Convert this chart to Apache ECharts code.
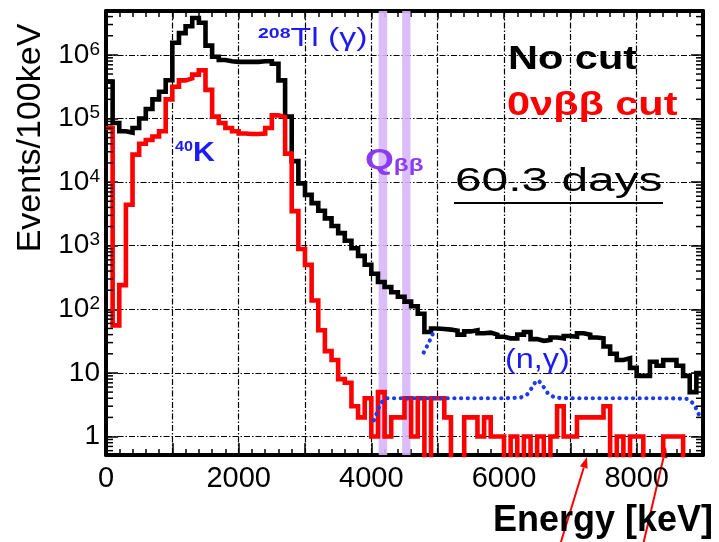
<!DOCTYPE html>
<html>
<head>
<meta charset="utf-8">
<title>Energy spectrum, 60.3 days</title>
<script src="https://cdn.jsdelivr.net/npm/echarts@6/dist/echarts.min.js"></script>
<style>
  html, body { margin: 0; padding: 0; background: #fff; }
  #main { width: 719px; height: 542px; }
</style>
</head>
<body>
<div id="main"></div>
<script>
// histograms, 100 keV bins starting at 0 keV
var binWidth = 100;

// black: no cut
var noCut = [
  380000, 85000, 63000, 60000, 71000, 100000, 141000, 200000, 263000, 400000,
  1550000, 2200000, 2820000, 3800000, 3200000, 1400000, 933000, 832000, 794000, 776000,
  776000, 776000, 776000, 794000, 794000, 724000, 398000, 107000, 21400, 9550,
  6310, 4680, 3550, 2690, 2040, 1580, 1200, 912, 692, 501,
  363, 269, 224, 186, 158, 132, 112, 85, 44, 50,
  49, 48, 46, 40, 45, 47, 42, 43, 40, 37,
  35, 35, 40, 44, 34, 32, 33, 36, 35, 38,
  37, 42, 40, 36, 35, 26, 20, 16, 17, 12,
  9, 9, 15, 13, 16, 16, 13, 9, 5, 10
];

// red: 0vbb cut
var cut0vbb = [
  71000, 56, 240, 4400, 27000, 40000, 46000, 52000, 63000, 200000,
  316000, 398000, 427000, 490000, 575000, 282000, 107000, 85000, 71000, 63000,
  58000, 57000, 57000, 58000, 71000, 112000, 105000, 28000, 3500, 890,
  500, 138, 47, 22, 16, 8, 7, 3, 2, 4,
  1, 5, 1, 2, 2, 4, 1, 4, 0, 4,
  4, 2, 0, 0, 2, 2, 1, 2, 1, 1,
  0, 1, 0, 1, 0, 1, 0, 1, 3, 1,
  1, 2, 2, 2, 2, 3, 0, 1, 0, 1,
  1, 0, 0, 0, 1, 1, 1, 0, 0, 0
];

// blue dotted (n,gamma) expectation
var ngE = [4040, 4080, 4120, 4170, 4230, 4400, 4800, 5200, 5600, 6000, 6250, 6350, 6420, 6480, 6520, 6580, 6660, 6760, 7000, 7500, 8000, 8500, 8760, 8830, 8880, 8930, 8970];
var ngCounts = [1.8, 2.3, 3.0, 3.6, 4.0, 4.0, 4.0, 4.0, 4.0, 4.0, 4.1, 4.6, 5.8, 7.4, 7.6, 6.4, 4.8, 4.1, 4.0, 4.0, 4.0, 4.0, 3.9, 3.5, 3.0, 2.3, 1.9];

// short dotted piece near the 208Tl edge
var tlEdgeE = [4790, 4860, 4940];
var tlEdgeCounts = [21, 29, 44];

// Q_bb windows (keV)
var qbbBands = [[4110, 4240], [4465, 4590]];

var xMax = 9000;
var yMin = -0.29;   // log10 of 0.51
var yMax = 6.69;    // log10 of 4.9e6

var font = 'Liberation Sans, Arial, sans-serif';

function lg(v) { return v > 0 ? Math.log10(v) : -1; }

function histPoints(arr) {
  var pts = arr.map(function (v, i) { return [i * binWidth, lg(v)]; });
  pts.push([arr.length * binWidth, lg(arr[arr.length - 1])]);
  return pts;
}

function pairs(xs, ys) {
  return xs.map(function (x, i) { return [x, lg(ys[i])]; });
}

// log minor tick positions (2..9 in each decade)
var minorLog = [];
for (var n = -1; n <= 6; n++) {
  for (var k = 2; k <= 9; k++) {
    var v = Math.log10(k) + n;
    if (v > yMin && v < yMax) minorLog.push([0, v]);
  }
}

var chart = echarts.init(document.getElementById('main'));

var gridLine = { show: true, lineStyle: { color: '#000', width: 1.2, type: [6, 2, 1.5, 2] } };

function arrow(x1, y1, x2, y2) {
  var a = Math.atan2(y2 - y1, x2 - x1);
  var L = 11, W = 4;
  var bx = x2 - L * Math.cos(a), by = y2 - L * Math.sin(a);
  return [
    { type: 'line', shape: { x1: x1, y1: y1, x2: bx, y2: by }, style: { stroke: '#ff0000', lineWidth: 2 } },
    { type: 'polygon', shape: { points: [[x2, y2],
        [bx + W * Math.sin(a), by - W * Math.cos(a)],
        [bx - W * Math.sin(a), by + W * Math.cos(a)]] }, style: { fill: '#ff0000' } }
  ];
}

function label(x, y, text, rich, sx, extra) {
  var el = {
    type: 'text', x: x, y: y, scaleX: sx || 1, z: 20,
    style: {
      text: text, rich: rich, fontFamily: font,
      align: 'left', verticalAlign: 'middle',
      textAlign: 'left', textVerticalAlign: 'middle'
    }
  };
  if (extra) for (var key in extra) el.style[key] = extra[key];
  return el;
}

var blue = '#1c1cf0';

var option = {
  animation: false,
  backgroundColor: '#fff',
  grid: { left: 106, right: 16, top: 11, bottom: 87 },
  xAxis: [{
    type: 'value', min: 0, max: xMax, interval: 1000,
    axisLine: { onZero: false, lineStyle: { color: '#000', width: 4 } },
    axisTick: { inside: true, length: 12, lineStyle: { color: '#000', width: 1.5 } },
    minorTick: { show: true, splitNumber: 5, length: 6, lineStyle: { color: '#000', width: 1.5 } },
    axisLabel: {
      color: '#000', fontFamily: font, fontSize: 29, margin: 9,
      formatter: function (v) { return (v % 2000 === 0 && v < xMax) ? String(v) : ''; }
    },
    splitLine: gridLine
  }, {
    type: 'value', position: 'top', min: 0, max: xMax, interval: 1000,
    axisLine: { onZero: false, lineStyle: { color: '#000', width: 4 } },
    axisTick: { inside: true, length: 8, lineStyle: { color: '#000', width: 1.5 } },
    minorTick: { show: true, splitNumber: 5, length: 6, lineStyle: { color: '#000', width: 1.5 } },
    axisLabel: { show: false },
    splitLine: { show: false }
  }],
  yAxis: [{
    type: 'value', min: yMin, max: yMax, splitNumber: 7,
    axisLine: { onZero: false, lineStyle: { color: '#000', width: 4 } },
    axisTick: { inside: true, length: 12, lineStyle: { color: '#000', width: 1.5 } },
    axisLabel: {
      color: '#000', fontFamily: font, margin: 6,
      showMinLabel: false, showMaxLabel: false,
      formatter: function (v) {
        if (Math.abs(v - Math.round(v)) > 1e-6) return '';
        var p = Math.round(v);
        if (p === 0) return '{b|1}';
        if (p === 1) return '{b|10}';
        return '{b|10}{s|' + p + '}';
      },
      rich: {
        b: { fontSize: 28, lineHeight: 30, fontFamily: font, color: '#000' },
        s: { fontSize: 19, lineHeight: 18, verticalAlign: 'top', fontFamily: font, color: '#000' }
      }
    },
    splitLine: gridLine
  }, {
    type: 'value', position: 'right', min: yMin, max: yMax, splitNumber: 7,
    axisLine: { onZero: false, lineStyle: { color: '#000', width: 4 } },
    axisTick: { inside: true, length: 12, lineStyle: { color: '#000', width: 1.5 } },
    axisLabel: { show: false },
    splitLine: { show: false }
  }],
  series: [{
    // Q_bb windows
    type: 'line', data: [], z: 1, silent: true,
    markArea: {
      silent: true,
      itemStyle: { color: '#d7b6f8', opacity: 0.9 },
      data: qbbBands.map(function (b) { return [{ xAxis: b[0] }, { xAxis: b[1] }]; })
    }
  }, {
    name: 'No cut', type: 'line', step: 'end', z: 3, clip: true,
    symbol: 'none', data: histPoints(noCut),
    lineStyle: { color: '#000', width: 4.6, join: 'miter' }
  }, {
    name: '0vbb cut', type: 'line', step: 'end', z: 4, clip: true,
    symbol: 'none', data: histPoints(cut0vbb),
    lineStyle: { color: '#ff0000', width: 4.6, join: 'miter' }
  }, {
    name: '(n,g)', type: 'line', z: 5, clip: true, symbol: 'none',
    data: pairs(ngE, ngCounts),
    lineStyle: { color: '#1a3cf0', width: 4.2, type: [0.1, 6.6], cap: 'round' }
  }, {
    type: 'line', z: 5, clip: true, symbol: 'none',
    data: pairs(tlEdgeE, tlEdgeCounts),
    lineStyle: { color: '#1a3cf0', width: 4.2, type: [0.1, 6.6], cap: 'round' }
  }, {
    // log minor ticks on left and right frame
    type: 'custom', z: 6, silent: true, data: minorLog,
    renderItem: function (params, api) {
      var y = api.value(1);
      var l = api.coord([0, y]);
      var r = api.coord([xMax, y]);
      var st = { stroke: '#000', lineWidth: 1.5 };
      return {
        type: 'group', children: [
          { type: 'line', shape: { x1: l[0], y1: l[1], x2: l[0] + 7, y2: l[1] }, style: st },
          { type: 'line', shape: { x1: r[0], y1: r[1], x2: r[0] - 7, y2: r[1] }, style: st }
        ]
      };
    }
  }],
  graphic: [
    { type: 'text', x: 31, y: 138, rotation: Math.PI / 2, z: 20,
      style: { text: 'Events/100keV', fontFamily: font, fontSize: 34, fill: '#000',
        align: 'center', verticalAlign: 'middle', textAlign: 'center', textVerticalAlign: 'middle' } },
    { type: 'text', x: 713, y: 521, z: 20,
      style: { text: 'Energy [keV]', fontFamily: font, fontSize: 36, fontWeight: 'bold', fill: '#000',
        align: 'right', verticalAlign: 'middle', textAlign: 'right', textVerticalAlign: 'middle' } },
    label(508, 60, 'No cut', null, 1.22, { fontSize: 34, fontWeight: 'bold', fill: '#000' }),
    label(507, 106, '0νββ cut', null, 1.22, { fontSize: 34, fontWeight: 'bold', fill: '#ff0000' }),
    label(455, 182, '60.3 days', null, 1.45, { fontSize: 33, fill: '#000' }),
    { type: 'line', z: 20, shape: { x1: 454, y1: 203, x2: 663, y2: 203 }, style: { stroke: '#000', lineWidth: 2 } },
    label(505, 361, '(n,γ)', null, 1.2, { fontSize: 27, fill: blue }),
    label(258, 39, '{s|208}{b|Tl (γ)}', {
      s: { fontSize: 15, lineHeight: 15, verticalAlign: 'top', fill: blue, fontWeight: 'bold', fontFamily: font },
      b: { fontSize: 26, lineHeight: 26, fill: blue, fontFamily: font }
    }, 1.3),
    label(175, 153, '{s|40}{b|K}', {
      s: { fontSize: 15, lineHeight: 15, verticalAlign: 'top', fill: blue, fontWeight: 'bold', fontFamily: font },
      b: { fontSize: 28, lineHeight: 28, fill: blue, fontWeight: 'bold', fontFamily: font }
    }, 1.08),
    label(365, 161, '{b|Q}{s|ββ}', {
      b: { fontSize: 29, lineHeight: 29, fill: '#8c3cf0', fontWeight: 'bold', fontFamily: font },
      s: { fontSize: 19, lineHeight: 19, verticalAlign: 'bottom', fill: '#8c3cf0', fontWeight: 'bold', fontFamily: font }
    }, 1.28)
  ].concat(arrow(560, 545, 587, 457), arrow(643, 545, 666, 447))
};

chart.setOption(option);
</script>
</body>
</html>
